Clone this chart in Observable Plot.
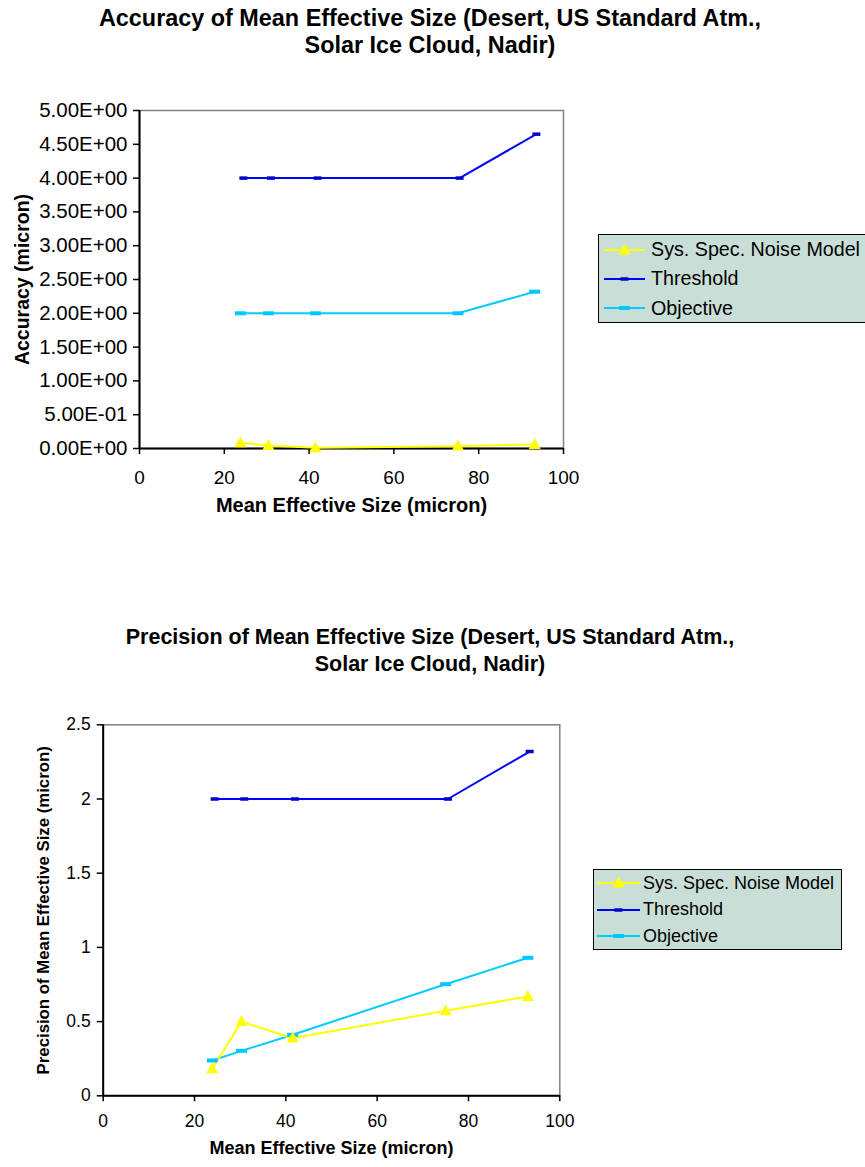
<!DOCTYPE html>
<html>
<head>
<meta charset="utf-8">
<script src="https://cdn.jsdelivr.net/npm/d3@7"></script>
<script src="https://cdn.jsdelivr.net/npm/@observablehq/plot@0.6"></script>
<style>
  html, body { margin: 0; padding: 0; background: #fff; }
  #page { position: relative; width: 865px; height: 1167px; overflow: hidden; font-family: "Liberation Sans", Arial, sans-serif; color: #000; }
  .title { position: absolute; text-align: center; font-weight: bold; white-space: nowrap; }
  .legend { position: absolute; background: #c9ded6; border: 1px solid #000; box-sizing: border-box; white-space: nowrap; }
  .legend .row { display: flex; align-items: center; }
  .legend svg { display: block; flex: none; }
  .chart { position: absolute; left: 0; }
</style>
</head>
<body>
<div id="page"></div>
<script>
// ---------- data ----------
const seriesNames = ["Sys. Spec. Noise Model", "Threshold", "Objective"];
const seriesColors = ["#ffff00", "#0000ff", "#00ccff"];
const markerColors = ["#ffff00", "#0000cc", "#00c8ff"];

// Accuracy chart
const accThresholdX = [24.5, 31.0, 42.0, 75.5, 93.6];
const accThresholdY = [4.0, 4.0, 4.0, 4.0, 4.65];
const accObjectiveX = [23.8, 30.4, 41.5, 75.1, 93.2];
const accObjectiveY = [2.0, 2.0, 2.0, 2.0, 2.32];
const accSysX = [23.8, 30.4, 41.5, 75.1, 93.2];
const accSysY = [0.084, 0.044, 0.01, 0.034, 0.059];
const accYTicks = [0, 0.5, 1, 1.5, 2, 2.5, 3, 3.5, 4, 4.5, 5];
const accYTickLabels = ["0.00E+00", "5.00E-01", "1.00E+00", "1.50E+00", "2.00E+00", "2.50E+00", "3.00E+00", "3.50E+00", "4.00E+00", "4.50E+00", "5.00E+00"];

// Precision chart
const preThresholdX = [24.4, 30.9, 42.0, 75.5, 93.4];
const preThresholdY = [2.0, 2.0, 2.0, 2.0, 2.32];
const preObjectiveX = [23.9, 30.3, 41.5, 75.0, 93.0];
const preObjectiveY = [0.238, 0.303, 0.411, 0.752, 0.930];
const preSysX = [23.9, 30.3, 41.5, 75.0, 93.0];
const preSysY = [0.182, 0.50, 0.388, 0.573, 0.669];
const preYTicks = [0, 0.5, 1, 1.5, 2, 2.5];
const preYTickLabels = ["0", "0.5", "1", "1.5", "2", "2.5"];

const xTicks = [0, 20, 40, 60, 80, 100];
const xTickLabels = ["0", "20", "40", "60", "80", "100"];

// ---------- symbols ----------
const rectSymbol = (w, h) => ({ draw(ctx) { ctx.rect(-w / 2, -h / 2, w, h); } });
const triSymbol = (w, h) => ({ draw(ctx) { ctx.moveTo(0, -h * 0.6); ctx.lineTo(w / 2, h * 0.4); ctx.lineTo(-w / 2, h * 0.4); ctx.closePath(); } });
const symbols = [triSymbol(12, 11), rectSymbol(8, 3.5), rectSymbol(11, 4)];

const FONT = "Liberation Sans, Arial, sans-serif";
const page = document.getElementById("page");

function makeChart(cfg) {
  const series = [
    {name: seriesNames[0], xs: cfg.sysX, ys: cfg.sysY},
    {name: seriesNames[1], xs: cfg.thrX, ys: cfg.thrY},
    {name: seriesNames[2], xs: cfg.objX, ys: cfg.objY}
  ];
  const rows = series.map((s, i) => s.xs.map((x, j) => ({series: s.name, idx: i, x, y: s.ys[j]})));
  const marks = [
    Plot.frame({stroke: "#808080", strokeWidth: 1.5}),
    Plot.axisX({ticks: xTicks, tickFormat: d => xTickLabels[xTicks.indexOf(d)], tickSize: 6, tickPadding: cfg.xPad, fontSize: cfg.xTickFont, label: null, strokeWidth: 1.5}),
    Plot.axisY({ticks: cfg.yTicks, tickFormat: d => cfg.yLabels[cfg.yTicks.indexOf(d)], tickSize: 6, tickPadding: cfg.yPad, fontSize: cfg.yTickFont, label: null, strokeWidth: 1.5}),
    Plot.ruleX([0], {stroke: "#000", strokeWidth: 2}),
    Plot.ruleY([0], {stroke: "#000", strokeWidth: 2}),
  ];
  [1, 2, 0].forEach(i => {
    marks.push(Plot.line(rows[i], {x: "x", y: "y", stroke: seriesColors[i], strokeWidth: 2}));
  });
  [1, 2, 0].forEach(i => {
    marks.push(Plot.dot(rows[i], {x: "x", y: "y", symbol: () => symbols[i], fill: markerColors[i], stroke: "none", r: 5}));
  });
  marks.push(Plot.text([cfg.xTitle], {text: d => d, frameAnchor: "bottom", dy: cfg.xTitleDy, fontSize: cfg.xTitleFont, fontWeight: "bold", fill: "#000"}));
  marks.push(Plot.text([cfg.yTitle], {text: d => d, frameAnchor: "left", textAnchor: "middle", dx: cfg.yTitleDx, rotate: -90, fontSize: cfg.yTitleFont, fontWeight: "bold", fill: "#000"}));

  const svg = Plot.plot({
    width: 865, height: cfg.height,
    marginTop: cfg.mt, marginBottom: cfg.mb, marginLeft: cfg.ml, marginRight: cfg.mr,
    style: {fontFamily: FONT, color: "#000", background: "transparent", overflow: "visible"},
    x: {domain: [0, 100]},
    y: {domain: cfg.yDomain},
    marks
  });
  svg.classList.add("chart");
  svg.style.top = cfg.top + "px";
  page.appendChild(svg);
}

function makeTitle(lines, left, width, top, fontSize, lineHeight) {
  const d = document.createElement("div");
  d.className = "title";
  Object.assign(d.style, {left: left + "px", width: width + "px", top: top + "px", fontSize: fontSize + "px", lineHeight: lineHeight + "px"});
  lines.forEach((l, i) => { if (i) d.appendChild(document.createElement("br")); d.appendChild(document.createTextNode(l)); });
  page.appendChild(d);
}

function makeLegend(o) {
  const d = document.createElement("div");
  d.className = "legend";
  Object.assign(d.style, {left: o.left + "px", top: o.top + "px", width: o.width + "px", height: o.height + "px", paddingLeft: o.padLeft + "px", fontSize: o.fontSize + "px"});
  const ns = "http://www.w3.org/2000/svg";
  seriesNames.forEach((n, i) => {
    const row = document.createElement("div");
    row.className = "row";
    row.style.height = o.rowH + "px";
    const s = document.createElementNS(ns, "svg");
    s.setAttribute("width", o.lineW); s.setAttribute("height", 14);
    s.style.marginRight = o.gap + "px";
    const ln = document.createElementNS(ns, "line");
    ln.setAttribute("x1", 0); ln.setAttribute("x2", o.lineW); ln.setAttribute("y1", 7); ln.setAttribute("y2", 7);
    ln.setAttribute("stroke", seriesColors[i]); ln.setAttribute("stroke-width", 2);
    s.appendChild(ln);
    const p = document.createElementNS(ns, "path");
    const path = d3.path(); symbols[i].draw(path);
    p.setAttribute("d", path.toString()); p.setAttribute("transform", `translate(${o.lineW / 2},7)`);
    p.setAttribute("fill", markerColors[i]);
    s.appendChild(p);
    row.appendChild(s);
    const t = document.createElement("span"); t.textContent = n;
    row.appendChild(t);
    d.appendChild(row);
  });
  page.appendChild(d);
}

// Chart 1: Accuracy
makeTitle(["Accuracy of Mean Effective Size (Desert, US Standard Atm.,", "Solar Ice Cloud, Nadir)"], 0, 860, 4.7, 23.4, 27);
makeChart({
  top: 0, height: 540, mt: 110, mb: 92, ml: 139, mr: 302,
  yDomain: [0, 5], yTicks: accYTicks, yLabels: accYTickLabels,
  sysX: accSysX, sysY: accSysY, thrX: accThresholdX, thrY: accThresholdY, objX: accObjectiveX, objY: accObjectiveY,
  xTitle: "Mean Effective Size (micron)", yTitle: "Accuracy (micron)",
  xTitleDy: 63, yTitleDx: -117, xTickFont: 19, yTickFont: 20.5, xTitleFont: 20, yTitleFont: 19.5, xPad: 16, yPad: 6
});
makeLegend({left: 598, top: 234, width: 290, height: 89, padLeft: 5, fontSize: 19.7, rowH: 29.3, lineW: 41, gap: 6});

// Chart 2: Precision
makeTitle(["Precision of Mean Effective Size (Desert, US Standard Atm.,", "Solar Ice Cloud, Nadir)"], 0, 860, 623.7, 21.5, 27);
makeChart({
  top: 600, height: 567, mt: 124.3, mb: 71.7, ml: 102.7, mr: 305.7,
  yDomain: [0, 2.5], yTicks: preYTicks, yLabels: preYTickLabels,
  sysX: preSysX, sysY: preSysY, thrX: preThresholdX, thrY: preThresholdY, objX: preObjectiveX, objY: preObjectiveY,
  xTitle: "Mean Effective Size (micron)", yTitle: "Precision of Mean Effective Size (micron)",
  xTitleDy: 58, yTitleDx: -60, xTickFont: 17.5, yTickFont: 17.5, xTitleFont: 18, yTitleFont: 16.8, xPad: 13, yPad: 6.5
});
makeLegend({left: 593, top: 869, width: 249, height: 81, padLeft: 3, fontSize: 18, rowH: 26.5, lineW: 43, gap: 3});
</script>
</body>
</html>
